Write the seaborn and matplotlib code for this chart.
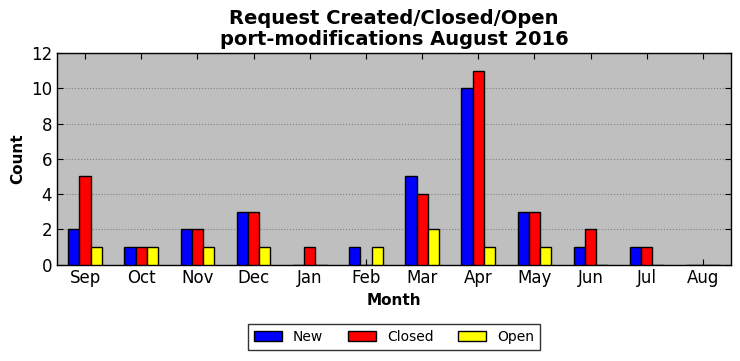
import matplotlib
matplotlib.use("Agg")
import matplotlib.pyplot as plt
import pandas as pd
import seaborn as sns

# Monthly request counts
months = ["Sep", "Oct", "Nov", "Dec", "Jan", "Feb", "Mar", "Apr", "May", "Jun", "Jul", "Aug"]
new = [2, 1, 2, 3, 0, 1, 5, 10, 3, 1, 1, 0]
closed = [5, 1, 2, 3, 1, 0, 4, 11, 3, 2, 1, 0]
open_ = [1, 1, 1, 1, 0, 1, 2, 1, 1, 0, 0, 0]

series = ["New", "Closed", "Open"]
colors = ["#0000ff", "#ff0000", "#ffff00"]

df = pd.DataFrame({"Month": months, "New": new, "Closed": closed, "Open": open_})
long_df = df.melt(id_vars="Month", var_name="Status", value_name="Count")

sns.set_style("ticks")
plt.rcParams["font.family"] = ["DejaVu Sans"]
plt.rcParams["text.color"] = "black"
plt.rcParams["axes.labelcolor"] = "black"
plt.rcParams["xtick.color"] = "black"
plt.rcParams["ytick.color"] = "black"

fig = plt.figure(figsize=(7.4, 3.61), dpi=100)
ax = fig.add_axes([0.077, 0.267, 0.911, 0.586])
ax.set_facecolor("#bfbfbf")

sns.barplot(data=long_df, x="Month", y="Count", hue="Status", order=months,
            hue_order=series, palette=colors, width=0.6, edgecolor="black",
            linewidth=1, saturation=1, ax=ax, zorder=3)

ax.set_ylim(0, 12)
ax.set_xlim(-0.5, len(months) - 0.5)
ax.set_yticks(range(0, 13, 2))
ax.yaxis.grid(True, linestyle=":", color="#808080", linewidth=0.8, zorder=0)
ax.set_axisbelow(True)
ax.tick_params(direction="in", labelsize=12, top=True, right=True, length=4)
for s in ax.spines.values():
    s.set_color("black")
    s.set_linewidth(1)

ax.set_title("Request Created/Closed/Open\nport-modifications August 2016",
             fontsize=14, fontweight="bold", linespacing=1.1, color="black")
ax.set_xlabel("Month", fontsize=11, fontweight="bold", color="black")
ax.set_ylabel("Count", fontsize=11, fontweight="bold", color="black")

leg = ax.legend(loc="upper center", bbox_to_anchor=(0.5, -0.25), ncol=3,
                frameon=True, fancybox=False, fontsize=10, columnspacing=1.8,
                handlelength=2.0, handleheight=0.7, borderpad=0.4)
leg.get_frame().set_edgecolor("black")
leg.get_frame().set_linewidth(1)
leg.set_title(None)
for t in leg.get_texts():
    t.set_color("black")

fig.savefig("out.png", dpi=100)
